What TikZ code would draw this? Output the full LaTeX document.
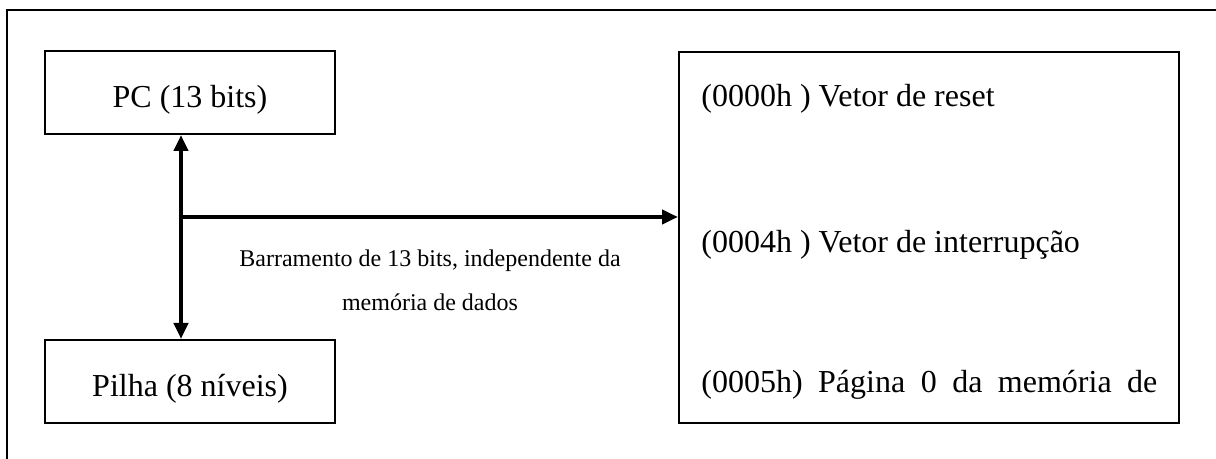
\documentclass[tikz,border=0pt]{standalone}
\usepackage{fontspec}
\setmainfont{Liberation Serif}
\usetikzlibrary{arrows.meta}
\begin{document}
\begin{tikzpicture}[x=0.5pt,y=-0.5pt,
  unit/.style={draw=black,line width=1pt,inner sep=0pt,font=\fontsize{16}{19}\selectfont},
  regbox/.style={unit,minimum width=145pt,minimum height=41.5pt,text height=18pt,text depth=3pt},
  memline/.style={anchor=base west,inner sep=0pt,font=\fontsize{16}{19}\selectfont},
  tip/.style={Triangle[width=7pt,length=8pt]},
  bus/.style={line width=2pt,-{Triangle[width=7pt,length=8pt]}},
  buslabel/.style={align=center,inner sep=0pt,font=\fontsize{12}{22}\selectfont}]
  \useasboundingbox (0,0) rectangle (1216,459);
  % page frame (only its top and left sides fall on the page)
  \draw[line width=1pt] (7,459) -- (7,10) -- (1216,10);
  % program counter and stack
  \node[regbox] (pc) at (190,92.5) {PC (13 bits)};
  \node[regbox] (pilha) at (190,381.5) {Pilha (8 níveis)};
  % program memory
  \node[unit,minimum width=250pt,minimum height=185.5pt] (mem) at (929,237.5) {};
  \node[memline] (m1) at (701,107) {(0000h ) Vetor de reset};
  \node[memline] (m2) at (701,253) {(0004h ) Vetor de interrupção};
  \node[memline] (m3) at (701,393) {\makebox[228pt][s]{(0005h) Página 0 da memória de}};
  % 13-bit address bus
  \coordinate (tap) at (181,217);
  \draw[bus,{Triangle[width=7pt,length=8pt]}-{Triangle[width=7pt,length=8pt]}]
    (tap |- pc.south) -- (tap |- pilha.north);
  \draw[bus] (tap) -- (tap -| mem.west);
  \node[buslabel] (lbl) at (430,280) {Barramento de 13 bits, independente da\\memória de dados};
\end{tikzpicture}
\end{document}
